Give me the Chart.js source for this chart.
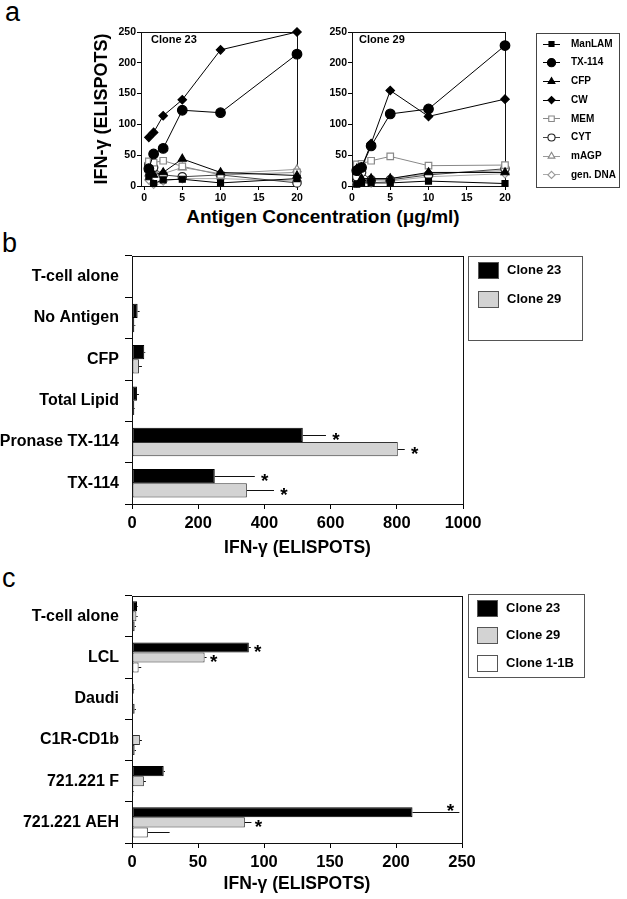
<!DOCTYPE html>
<html><head><meta charset="utf-8">
<script src="https://cdn.jsdelivr.net/npm/chart.js@4"></script>
<style>
html,body{margin:0;padding:0;background:#fff;width:627px;height:899px;overflow:hidden;position:relative;font-family:'Liberation Sans',Arial,Helvetica,sans-serif;}
canvas{position:absolute;}
.lbl{position:absolute;color:#000;white-space:nowrap;line-height:1.15;}
</style></head><body>
<div class="lbl" style="left:5px;top:-3px;font-size:27px;">a</div>
<div class="lbl" style="left:2px;top:228px;font-size:27px;">b</div>
<div class="lbl" style="left:2px;top:563px;font-size:27px;">c</div>
<div class="lbl" style="left:141px;width:364px;top:206px;text-align:center;font-size:19px;font-weight:bold;">Antigen Concentration (μg/ml)</div>
<canvas id="a1" width="310" height="210" style="left:0;top:0"></canvas>
<canvas id="a2" width="317" height="210" style="left:310px;top:0"></canvas>
<canvas id="cb" width="627" height="330" style="left:0;top:240px"></canvas>
<canvas id="cc" width="627" height="319" style="left:0;top:580px"></canvas>
<script>
// ---------- DATA ----------
const concentrations = [0.625, 1.25, 2.5, 5, 10, 20];
const xTicksA = [0, 5, 10, 15, 20];
const yTicksA = [0, 50, 100, 150, 200, 250];
const seriesNames = ['ManLAM', 'TX-114', 'CFP', 'CW', 'MEM', 'CYT', 'mAGP', 'gen. DNA'];

const c23_ManLAM = [15, 4, 10, 11, 5, 12];
const c23_TX114  = [28, 52, 61, 123, 119, 214];
const c23_CFP    = [27, 18, 22, 44, 22, 17];
const c23_CW     = [79, 87, 114, 140, 221, 250];
const c23_MEM    = [40, 38, 41, 32, 18, 22];
const c23_CYT    = [35, 30, 18, 15, 18, 5];
const c23_mAGP   = [20, 25, 20, 30, 20, 27];
const c23_DNA    = [10, 3, 8, 12, 12, 8];

const c29_ManLAM = [3, 5, 5, 5, 8, 4];
const c29_TX114  = [25, 30, 65, 117, 125, 228];
const c29_CFP    = [28, 12, 12, 12, 22, 22];
const c29_CW     = [27, 30, 69, 155, 113, 141];
const c29_MEM    = [35, 36, 41, 48, 33, 34];
const c29_CYT    = [15, 22, 10, 10, 18, 28];
const c29_mAGP   = [5, 10, 12, 12, 20, 25];
const c29_DNA    = [5, 8, 5, 8, 15, 20];

const bCategories = ['T-cell alone', 'No Antigen', 'CFP', 'Total Lipid', 'Pronase TX-114', 'TX-114'];
const bClone23    = [2, 17, 37, 15, 516, 250];
const bClone23Err = [0, 6, 3, 6, 70, 121];
const bClone23Sig = [0, 0, 0, 0, 1, 1];
const bClone29    = [1, 7, 21, 7, 803, 347];
const bClone29Err = [0, 3, 9, 2, 21, 82];
const bClone29Sig = [0, 0, 0, 0, 1, 1];

const cCategories  = ['T-cell alone', 'LCL', 'Daudi', 'C1R-CD1b', '721.221 F', '721.221 AEH'];
const cClone23     = [3.8, 88.5, 1.3, 0.3, 24, 212.5];
const cClone23Err  = [0.5, 1.5, 0.5, 0, 1, 35.5];
const cClone23Sig  = [0, 1, 0, 0, 0, 1];
const cClone29     = [3.3, 55, 0.5, 6, 9, 85.5];
const cClone29Err  = [1, 1.5, 0.3, 1.5, 1.5, 5];
const cClone29Sig  = [0, 1, 0, 0, 0, 1];
const cClone11B    = [2, 5, 2, 2, 1, 12];
const cClone11BErr = [1, 2, 1, 1, 0.5, 16.5];
const cClone11BSig = [0, 0, 0, 0, 0, 0];

const bTicks = [0, 200, 400, 600, 800, 1000];
const cTicks = [0, 50, 100, 150, 200, 250];

// ---------- STYLES ----------
const FF = "'Liberation Sans', Arial, Helvetica, sans-serif";
Chart.defaults.font.family = FF;
Chart.defaults.color = '#000';

const seriesStyle = [
  {ps:'rect',     r:4.2, fill:'#000', stroke:'#000', line:'#000'},
  {ps:'circle',   r:4.8, fill:'#000', stroke:'#000', line:'#000'},
  {ps:'triangle', r:4.6, fill:'#000', stroke:'#000', line:'#000'},
  {ps:'rectRot',  r:4.2, fill:'#000', stroke:'#000', line:'#000'},
  {ps:'rect',     r:4.6, fill:'#fff', stroke:'#888', line:'#888'},
  {ps:'circle',   r:4.2, fill:'#fff', stroke:'#222', line:'#444'},
  {ps:'triangle', r:4.6, fill:'#fff', stroke:'#888', line:'#999'},
  {ps:'rectRot',  r:4.2, fill:'#fff', stroke:'#999', line:'#aaa'}
];

function buildA(arrs){
  return seriesNames.map((name, k) => {
    const s = seriesStyle[k];
    return {
      label: name,
      data: concentrations.map((x, i) => ({x: x, y: arrs[k][i]})),
      showLine: true, borderColor: s.line, borderWidth: 1, tension: 0,
      pointStyle: s.ps, pointRadius: s.r, pointBackgroundColor: s.fill,
      pointBorderColor: s.stroke, pointBorderWidth: 1.2, clip: false
    };
  });
}

// ---------- PLUGINS ----------
const framePlugin = {
  id: 'frame',
  beforeDatasetsDraw(chart){
    const a = chart.chartArea, ctx = chart.ctx;
    ctx.save(); ctx.strokeStyle = '#111'; ctx.lineWidth = 1;
    ctx.strokeRect(Math.round(a.left) + 0.5, Math.round(a.top) + 0.5,
                   Math.round(a.right - a.left), Math.round(a.bottom - a.top));
    ctx.restore();
  }
};

const cornerText = {
  id: 'cornerText',
  afterDraw(chart, args, o){
    if (!o.text) return;
    const a = chart.chartArea, ctx = chart.ctx;
    ctx.save(); ctx.fillStyle = '#000'; ctx.font = 'bold 11px ' + FF;
    ctx.textAlign = 'left'; ctx.textBaseline = 'middle';
    ctx.fillText(o.text, a.left + o.dx, a.top + o.dy);
    ctx.restore();
  }
};

const legendA = {
  id: 'legendA',
  afterDraw(chart, args, o){
    if (!o.show) return;
    const ctx = chart.ctx;
    ctx.save();
    ctx.strokeStyle = '#444'; ctx.lineWidth = 1;
    ctx.strokeRect(o.x + 0.5, o.y + 0.5, o.w, o.h);
    chart.data.datasets.forEach((ds, i) => {
      const cy = o.firstY + i * o.step;
      ctx.strokeStyle = ds.borderColor; ctx.lineWidth = 1;
      ctx.beginPath(); ctx.moveTo(o.lx0, Math.round(cy) + 0.5); ctx.lineTo(o.lx1, Math.round(cy) + 0.5); ctx.stroke();
      ctx.fillStyle = ds.pointBackgroundColor; ctx.strokeStyle = ds.pointBorderColor; ctx.lineWidth = 1.1;
      Chart.helpers.drawPoint(ctx, {pointStyle: ds.pointStyle, radius: ds.pointRadius * 0.85, borderWidth: 1.1, rotation: 0}, (o.lx0 + o.lx1) / 2, cy + 0.5);
      ctx.fillStyle = '#000'; ctx.font = 'bold 10px ' + FF;
      ctx.textAlign = 'left'; ctx.textBaseline = 'middle';
      ctx.fillText(ds.label, o.tx, cy + 0.5);
    });
    ctx.restore();
  }
};

const errPlugin = {
  id: 'errs',
  afterDatasetsDraw(chart, args, o){
    const ctx = chart.ctx, xs = chart.scales.x, area = chart.chartArea;
    chart.data.datasets.forEach((ds, di) => {
      const meta = chart.getDatasetMeta(di);
      meta.data.forEach((bar, i) => {
        const v = ds.data[i], e = ds.errors[i];
        const x1 = xs.getPixelForValue(v + e);
        const yy = Math.round(bar.y) + 0.5;
        if (e > 0) {
          ctx.save(); ctx.strokeStyle = '#111'; ctx.lineWidth = 1;
          ctx.beginPath(); ctx.moveTo(bar.x, yy); ctx.lineTo(x1, yy); ctx.stroke();
          ctx.restore();
        }
        if (ds.sig[i]) {
          let sx = x1 + o.gap, sy = bar.y;
          if (sx + 5 > area.right) { sx = x1 - 9; sy = bar.y - bar.height * 0.6; }
          ctx.save(); ctx.fillStyle = '#000'; ctx.font = 'bold 19px ' + FF;
          ctx.textAlign = 'center'; ctx.textBaseline = 'alphabetic';
          ctx.fillText('*', sx, sy + 0.56 * 19);
          ctx.restore();
        }
      });
    });
  }
};

const barLegend = {
  id: 'barLegend',
  afterDraw(chart, args, o){
    const ctx = chart.ctx;
    ctx.save();
    ctx.strokeStyle = '#555'; ctx.lineWidth = 1;
    ctx.strokeRect(o.x + 0.5, o.y + 0.5, o.w, o.h);
    chart.data.datasets.forEach((ds, i) => {
      const cy = o.firstY + i * o.step;
      const top = Math.round(cy - o.sh / 2);
      ctx.fillStyle = ds.backgroundColor; ctx.fillRect(o.sx, top, o.sw, o.sh);
      ctx.strokeStyle = '#555'; ctx.strokeRect(o.sx + 0.5, top + 0.5, o.sw - 1, o.sh - 1);
      ctx.fillStyle = '#000'; ctx.font = 'bold 13px ' + FF;
      ctx.textAlign = 'left'; ctx.textBaseline = 'middle';
      ctx.fillText(ds.label, o.tx, cy);
    });
    ctx.restore();
  }
};

// ---------- PANEL A ----------
function lineChart(id, arrs, opts){
  return new Chart(document.getElementById(id), {
    type: 'line',
    data: {datasets: buildA(arrs)},
    plugins: [framePlugin, cornerText, legendA],
    options: {
      responsive: false, animation: false,
      layout: {padding: opts.padding},
      plugins: {
        legend: {display: false}, tooltip: {enabled: false},
        cornerText: {text: opts.title, dx: opts.tdx, dy: 8},
        legendA: opts.legend
      },
      scales: {
        x: {
          type: 'linear', min: opts.xmin, max: 20,
          afterBuildTicks: s => { s.ticks = xTicksA.map(v => ({value: v})); },
          afterFit: s => { s.height = 20; },
          border: {display: false},
          grid: {drawOnChartArea: false, drawTicks: true, tickLength: 4, color: '#000'},
          ticks: {font: {size: 10.5, weight: 'bold'}, color: '#000', padding: 2, maxRotation: 0}
        },
        y: {
          min: 0, max: 250,
          afterBuildTicks: s => { s.ticks = yTicksA.map(v => ({value: v})); },
          afterFit: s => { s.width = opts.yw; },
          border: {display: false},
          grid: {drawOnChartArea: false, drawTicks: true, tickLength: 4, color: '#000'},
          ticks: {font: {size: 10.5, weight: 'bold'}, color: '#000', padding: 1},
          title: {display: opts.ytitle, text: 'IFN-γ (ELISPOTS)', color: '#000',
                  font: {size: 18, weight: 'bold'}, padding: {top: 3, bottom: 0}}
        }
      }
    }
  });
}

lineChart('a1', [c23_ManLAM, c23_TX114, c23_CFP, c23_CW, c23_MEM, c23_CYT, c23_mAGP, c23_DNA], {
  padding: {left: 88, top: 32, right: 13, bottom: 4}, yw: 53, xmin: -0.4,
  title: 'Clone 23', tdx: 10, ytitle: true, legend: {show: false}
});
lineChart('a2', [c29_ManLAM, c29_TX114, c29_CFP, c29_CW, c29_MEM, c29_CYT, c29_mAGP, c29_DNA], {
  padding: {left: 0, top: 32, right: 122, bottom: 4}, yw: 42, xmin: 0,
  title: 'Clone 29', tdx: 7, ytitle: false,
  legend: {show: true, x: 226, y: 33, w: 83, h: 154, firstY: 43.5, step: 18.7, lx0: 233, lx1: 250, tx: 261}
});

// ---------- PANELS B, C ----------
function barChart(id, cats, sets, ticks, opts){
  return new Chart(document.getElementById(id), {
    type: 'bar',
    data: {
      labels: cats,
      datasets: sets.map(s => ({
        label: s.label, data: s.data, errors: s.err, sig: s.sig,
        backgroundColor: s.fill, borderColor: s.border, borderWidth: 1, borderSkipped: false,
        categoryPercentage: opts.catPct, barPercentage: 1
      }))
    },
    plugins: [framePlugin, errPlugin, barLegend],
    options: {
      indexAxis: 'y', responsive: false, animation: false,
      layout: {padding: opts.padding},
      plugins: {
        legend: {display: false}, tooltip: {enabled: false},
        errs: {gap: opts.gap},
        barLegend: opts.legend
      },
      scales: {
        x: {
          type: 'linear', min: ticks[0], max: ticks[ticks.length - 1],
          afterBuildTicks: s => { s.ticks = ticks.map(v => ({value: v})); },
          afterFit: s => { s.height = opts.xh; },
          border: {display: false},
          grid: {drawOnChartArea: false, drawTicks: true, tickLength: 5, color: '#000'},
          ticks: {font: {size: 16.5, weight: 'bold'}, color: '#000', padding: 5, maxRotation: 0,
                  callback: v => String(v)},
          title: {display: true, text: 'IFN-γ (ELISPOTS)', color: '#000',
                  font: {size: 17.5, weight: 'bold'}, padding: {top: 0, bottom: opts.tpad}}
        },
        y: {
          afterFit: s => { s.width = 132; },
          border: {display: false},
          grid: {drawOnChartArea: false, drawTicks: true, tickLength: 7, offset: true, color: '#000'},
          ticks: {font: {size: 16, weight: 'bold'}, color: '#000', padding: 6, autoSkip: false}
        }
      }
    }
  });
}

barChart('cb', bCategories, [
  {label: 'Clone 23', data: bClone23, err: bClone23Err, sig: bClone23Sig, fill: '#000', border: '#000'},
  {label: 'Clone 29', data: bClone29, err: bClone29Err, sig: bClone29Sig, fill: '#d3d3d3', border: '#333'}
], bTicks, {
  padding: {left: 0, top: 16, right: 164, bottom: 0}, xh: 66, tpad: 11.5, catPct: 0.69, gap: 10,
  legend: {x: 468, y: 16, w: 114, h: 84, firstY: 30, step: 29, sx: 478, sw: 21, sh: 17, tx: 507}
});

barChart('cc', cCategories, [
  {label: 'Clone 23', data: cClone23, err: cClone23Err, sig: cClone23Sig, fill: '#000', border: '#000'},
  {label: 'Clone 29', data: cClone29, err: cClone29Err, sig: cClone29Sig, fill: '#d3d3d3', border: '#333'},
  {label: 'Clone 1-1B', data: cClone11B, err: cClone11BErr, sig: cClone11BSig, fill: '#fff', border: '#333'}
], cTicks, {
  padding: {left: 0, top: 15, right: 165, bottom: 0}, xh: 56, tpad: 4, catPct: 0.73, gap: 7,
  legend: {x: 468, y: 14, w: 116, h: 83, firstY: 28.5, step: 27.3, sx: 477, sw: 21, sh: 17, tx: 506}
});
</script>
</body></html>
